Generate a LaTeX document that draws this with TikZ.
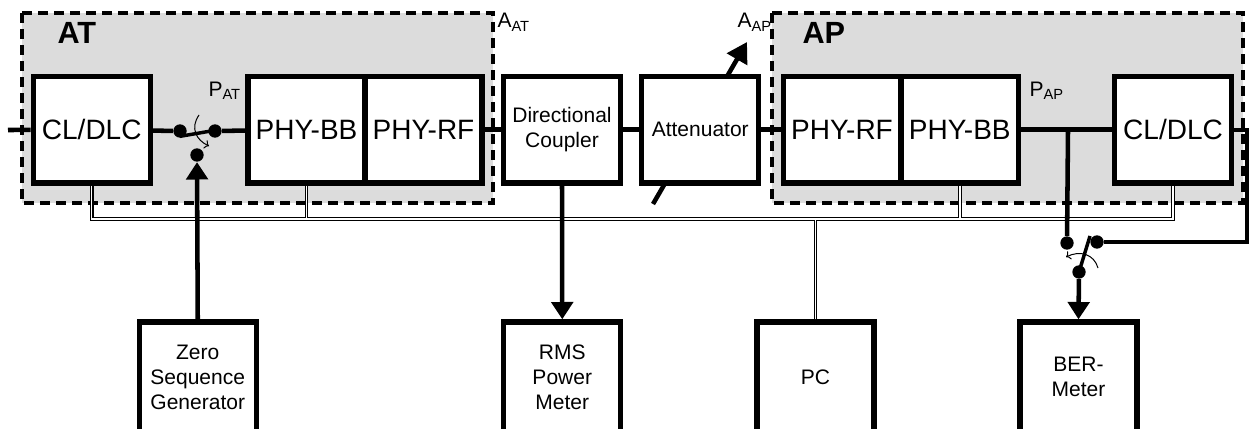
\documentclass[tikz,border=0pt]{standalone}
\usepackage{fontspec}
\setmainfont{Liberation Sans}
\usetikzlibrary{arrows.meta}
\definecolor{grpgray}{RGB}{220,220,220}
\tikzset{every picture/.style={line width=0.75pt}}
\tikzset{
  box/.style={draw, fill=white, line width=4pt, minimum width=87.75pt, minimum height=79.9pt, inner sep=0pt, font=\fontsize{21}{25}\selectfont},
  smallbox/.style={box, align=center, font=\fontsize{15.75}{18.75}\selectfont},
  instr/.style={box, align=center, minimum height=82.5pt, font=\fontsize{15.75}{18.75}\selectfont},
  dot/.style={circle, fill, inner sep=0pt, minimum size=10pt},
  wire/.style={line width=3.4pt},
  bus/.style={double, line width=0.8pt, double distance=1.1pt},
  group/.style={fill=grpgray, dash pattern={on 7.5pt off 4.5pt}, line width=2.4pt},
  grplabel/.style={font=\fontsize{23}{27}\bfseries\selectfont, inner sep=0pt},
  plabel/.style={font=\fontsize{15.75}{18}\selectfont, inner sep=0pt},
  tip/.style={-{Triangle[width=16pt,length=13pt]}}
}

\begin{document}
\begin{tikzpicture}[x=0.75pt,y=0.75pt,yscale=-1,xscale=1]
\useasboundingbox (0,0) rectangle (1251,428);

% AT and AP groups
\draw [group] (22,13) rectangle (493,203);
\draw [group] (772,13) rectangle (1243,203);
\node [grplabel, anchor=base west] (atlbl) at (57,44) {AT};
\node [grplabel, anchor=base west] (aplbl) at (802,44) {AP};

% attenuator setting arrow
\coordinate (attlo) at (653,204);
\coordinate (atthi) at (747,42);
\draw [wire, -{Triangle[width=17pt,length=15pt]}] (attlo) -- (atthi);

% points
\coordinate (in) at (8,130);
\coordinate (bus) at (0,219);
\coordinate (jap) at (1068,130);
\coordinate (rb) at (1247,242);

% upper row
\node [box] (clat) at (91.75,129.75) {CL/DLC};
\node [box] (bbat) at (306.5,129.75) {PHY-BB};
\node [box] (rfat) at (423.5,129.75) {PHY-RF};
\node [smallbox] (dc) at (562,129.75) {Directional\\Coupler};
\node [smallbox] (att) at (700.25,129.75) {Attenuator};
\node [box] (rfap) at (842,129.75) {PHY-RF};
\node [box] (bbap) at (959.75,129.75) {PHY-BB};
\node [box] (clap) at (1173,129.75) {CL/DLC};

% lower row
\node [instr] (zsg) at (197.75,377) {Zero\\Sequence\\Generator};
\node [instr] (rms) at (562.25,377) {RMS\\Power\\Meter};
\node [instr] (pc) at (815.35,377) {PC};
\node [instr] (ber) at (1078.5,377) {BER-\\Meter};

% control bus
\draw [bus] (clat.south) -- (clat.south |- bus) -| (clap.south)
  (bbat.south) -- (bbat.south |- bus)
  (bbap.south) -- (bbap.south |- bus)
  (pc.north) -- (pc.north |- bus);

% switches
\node [dot] (sa1) at (180,131) {};
\node [dot] (sa2) at (215,131) {};
\node [dot] (sa3) at (197,155) {};
\node [dot] (sb1) at (1067,243) {};
\node [dot] (sb2) at (1097,242) {};
\node [dot] (sb3) at (1079,272) {};

% signal lines
\draw [wire] (in) -- (clat);
\draw [wire] (clat) -- (sa1);
\draw [wire] (sa2) -- (bbat);
\draw [wire] (rfat) -- (dc);
\draw [wire] (dc) -- (att);
\draw [wire] (att) -- (rfap);
\draw [wire] (bbap) -- (clap);
\draw [wire] (jap) -- (sb1);
\draw [line width=2.8pt] (clap.east) -| (rb) -- (sb2);
\draw [wire, tip] (dc.south) -- (rms.north);
\draw [wire, tip] (zsg.north) -- (sa3.south);
\draw [wire, tip] (sb3) -- (ber.north);

% switch blades
\draw [line width=2.6pt] ([yshift=4pt]sa1.center) -- ([xshift=-3pt]sa2.center);
\draw [->] (199,115) .. controls (190,128) and (196,140) .. (209,146);
\draw [line width=2.6pt] (sb3.center) -- (1090,236);
\draw [->] (1098,268) .. controls (1094,254) and (1080,250) .. (1066,257);

% labels
\node [plabel, anchor=base west] (pat) at (208,96) {P\textsubscript{AT}};
\node [plabel, anchor=base west] (pap) at (1029,96) {P\textsubscript{AP}};
\node [plabel, anchor=base west] (aat) at (497,28) {A\textsubscript{AT}};
\node [plabel, anchor=base west] (aap) at (737,28) {A\textsubscript{AP}};

\end{tikzpicture}
\end{document}
